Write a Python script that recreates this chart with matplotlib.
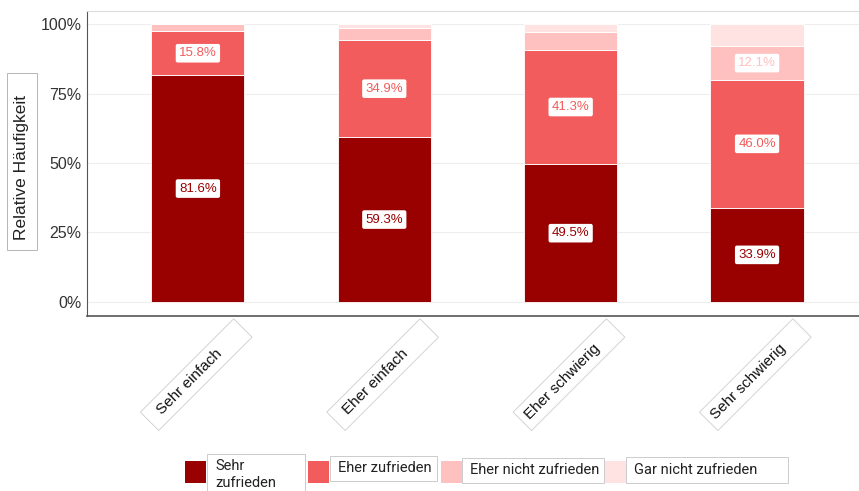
import numpy as np
import matplotlib.pyplot as plt
from matplotlib.patches import Rectangle
from matplotlib.transforms import Affine2D, IdentityTransform

categories = ["Sehr einfach", "Eher einfach", "Eher schwierig", "Sehr schwierig"]
series = ["Sehr\nzufrieden", "Eher zufrieden", "Eher nicht zufrieden", "Gar nicht zufrieden"]
sehr_zufrieden = [81.6, 59.3, 49.5, 33.9]
eher_zufrieden = [15.8, 34.9, 41.3, 46.0]
eher_nicht = [2.6, 4.4, 6.5, 12.1]
gar_nicht = [0.0, 1.4, 2.7, 8.0]
colors = ["#990000", "#F25C5C", "#FFC0C0", "#FFE3E3"]

plt.rcParams['font.family'] = ['Liberation Sans', 'DejaVu Sans']

W, H = 859, 491
fig = plt.figure(figsize=(W / 100, H / 100), dpi=100)
ax = fig.add_axes([87 / W, 1 - 316 / H, (W - 87) / W, (316 - 11) / H])

x = np.arange(len(categories))
bottom = np.zeros(len(categories))
for vals, col in zip([sehr_zufrieden, eher_zufrieden, eher_nicht, gar_nicht], colors):
    vals = np.array(vals)
    ax.bar(x, vals, width=0.5, bottom=bottom, color=col, edgecolor="white", linewidth=0.6, zorder=2)
    for xi, b, v in zip(x, bottom, vals):
        if v >= 10:
            ax.text(xi, b + v / 2, f"{v:.1f}%", ha="center", va="center", fontsize=9.5, color=col,
                    bbox=dict(boxstyle="round,pad=0.25,rounding_size=0.15", fc="white", ec="none"), zorder=3)
    bottom += vals

ax.set_xlim(-0.595, 3.547)
ax.set_ylim(-5.05, 104.7)
ax.set_yticks([0, 25, 50, 75, 100])
ax.set_yticklabels(["0%", "25%", "50%", "75%", "100%"], fontsize=11.5, color="#333333")
ax.yaxis.grid(True, color="#eeeeee", linewidth=0.8, zorder=0)
ax.tick_params(axis="y", length=0, pad=4)
ax.set_xticks(x)
ax.set_xticklabels([])
ax.tick_params(axis="x", length=0)

ax.spines["right"].set_visible(False)
ax.spines["top"].set_color("#dddddd")
ax.spines["top"].set_linewidth(0.8)
ax.spines["left"].set_color("#555555")
ax.spines["bottom"].set_color("#555555")
ax.spines["bottom"].set_linewidth(1.2)

# rotated category labels in framed boxes (pixel coordinates)
u = np.array([np.cos(np.radians(45)), np.sin(np.radians(45))])
for xi, name in zip(x, categories):
    px = ax.transData.transform((xi, 0))[0]
    upper = np.array([px + 45, H - 328])
    centre = upper - 66 * u
    fig.add_artist(Rectangle((-66, -13), 132, 26, fc="white", ec="#cccccc", lw=0.6,
                             transform=Affine2D().rotate_deg(45).translate(*centre)))
    tc = centre - 10 * u
    fig.text(tc[0], tc[1], name, rotation=45, rotation_mode="anchor", ha="center", va="center",
             fontsize=11, color="#111111", transform=IdentityTransform())

# y-axis title in a frame
fig.add_artist(Rectangle((7 / W, 1 - 250 / H), 30 / W, 177 / H, transform=fig.transFigure,
                         fc="white", ec="#aaaaaa", lw=0.6))
fig.text(22 / W, 1 - 167 / H, "Relative Häufigkeit", rotation=90, ha="center", va="center",
         fontsize=12.5, color="#222222")

# legend drawn as swatches with boxed labels
swatch_x = [185, 308, 441, 605]
box_x = [207, 330, 462, 626]
box_w = [98, 107, 142, 162]
box_y = [(454, 495), (456, 481), (458, 483), (457, 483)]
for sx, bx, bw, (y0, y1), col, name in zip(swatch_x, box_x, box_w, box_y, colors, series):
    fig.add_artist(Rectangle((sx / W, 1 - 483 / H), 21 / W, 22 / H,
                             transform=fig.transFigure, fc=col, ec="none"))
    fig.add_artist(Rectangle((bx / W, 1 - y1 / H), bw / W, (y1 - y0) / H,
                             transform=fig.transFigure, fc="white", ec="#cccccc", lw=0.7))
    ty = 474.5 if "\n" in name else (y0 + y1) / 2
    fig.text((bx + 8) / W, 1 - ty / H, name, ha="left", va="center", fontsize=10.5,
             family=["Roboto", "DejaVu Sans"], color="#222222", linespacing=1.2)

fig.savefig("out.png", dpi=100)
